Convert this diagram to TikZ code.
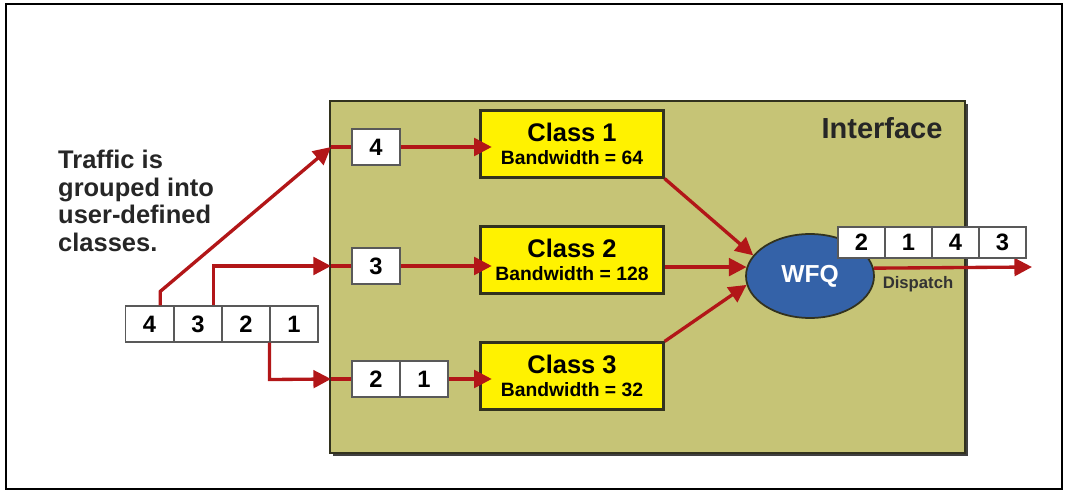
\documentclass[tikz,border=0pt]{standalone}
\usepackage{fontspec}
\setmainfont{Liberation Sans}
\usetikzlibrary{arrows.meta,shapes.geometric}
\definecolor{ifolive}{RGB}{198,196,118}
\definecolor{flowred}{RGB}{178,22,24}
\definecolor{wfqblue}{RGB}{52,98,168}
\definecolor{edgedark}{RGB}{50,50,30}
\begin{document}
\begin{tikzpicture}[x=0.02cm,y=-0.02cm,
  cell/.style={draw=black!65,fill=white,line width=0.6pt,minimum width=0.96cm,minimum height=0.72cm,inner sep=0pt,font=\fontsize{13.5}{13.5}\selectfont\bfseries},
  outcell/.style={cell,minimum width=0.94cm,minimum height=0.62cm},
  classbox/.style={draw=edgedark,fill=yellow,line width=1.2pt,minimum width=3.66cm,minimum height=1.34cm,align=center,inner sep=0pt},
  flow/.style={draw=flowred,line width=1.9pt,-{Triangle[length=10pt,width=10pt]}},
  link/.style={draw=flowred,line width=1.9pt}]
\useasboundingbox (0,0) rectangle (1067,493);
\draw[line width=1.4pt] (6,4) rectangle (1062,489);

% interface area
\fill[black!75] (333,104) rectangle (968,456);
\draw[fill=ifolive,draw=edgedark,line width=0.8pt] (330,101) rectangle (965,453);
\node[font=\fontsize{16.5}{16.5}\selectfont\bfseries,text=black!85] (iflabel) at (882,128) {Interface};

\node[align=left,anchor=west,font=\fontsize{14.5}{15.6}\selectfont\bfseries,text=black!85] (note) at (52,201) {Traffic is\\grouped into\\user-defined\\classes.};

% incoming traffic
\node[cell] (q4) at (149.5,324) {4};
\node[cell] (q3) at (198,324) {3};
\node[cell] (q2) at (246,324) {2};
\node[cell] (q1) at (294,324) {1};

% per-class queues
\node[cell] (b4) at (376,147) {4};
\node[cell] (b3) at (376,266) {3};
\node[cell] (b2) at (376,379) {2};
\node[cell] (b1) at (424,379) {1};

\coordinate (in1) at (331,147);
\coordinate (in2) at (331,266);
\coordinate (in3) at (331,379);

\node[classbox] (c1) at (572,144) {{\fontsize{14.5}{15}\selectfont\bfseries Class 1}\\[1pt]{\fontsize{11}{12}\selectfont\bfseries Bandwidth = 64}};
\node[classbox] (c2) at (572,260) {{\fontsize{14.5}{15}\selectfont\bfseries Class 2}\\[1pt]{\fontsize{11}{12}\selectfont\bfseries Bandwidth = 128}};
\node[classbox] (c3) at (572,376) {{\fontsize{14.5}{15}\selectfont\bfseries Class 3}\\[1pt]{\fontsize{11}{12}\selectfont\bfseries Bandwidth = 32}};

\node[ellipse,draw=edgedark,fill=wfqblue,line width=1pt,minimum width=2.56cm,minimum height=1.68cm,text=white,font=\fontsize{14}{14}\selectfont\bfseries] (wfq) at (810,276) {WFQ};

\coordinate (out) at (1032,267);
\node[font=\fontsize{9.5}{10}\selectfont\bfseries,text=black!80] (disp) at (918,284) {Dispatch};

% connectors
\path[flow] (q4.60) -- ++(0,-14) -- (in1);
\path[flow] (q3.50) |- (in2);
\path[flow] (q1.south west) -- ++(0,37) -- (in3);
\path[link] (in1) -- (b4);
\path[link] (in2) -- (b3);
\path[link] (in3) -- (b2);
\path[flow,shorten >=-7pt] (b4.east) -- (c1.west |- b4.east);
\path[flow,shorten >=-7pt] (b3.east) -- (c2.west |- b3.east);
\path[flow,shorten >=-7pt] (b1.east) -- (c3.west |- b1.east);
\path[flow] (c1.south east) -- (wfq.160);
\path[flow] (c2.east |- wfq.172) -- (wfq.172);
\path[flow] (c3.north east) -- (wfq.188);
\path[flow] (wfq.7) -- (out);

% dispatched packets
\node[outcell] (o2) at (861.5,242.5) {2};
\node[outcell] (o1) at (908.5,242.5) {1};
\node[outcell] (o4) at (955.5,242.5) {4};
\node[outcell] (o3) at (1002.5,242.5) {3};
\end{tikzpicture}
\end{document}
